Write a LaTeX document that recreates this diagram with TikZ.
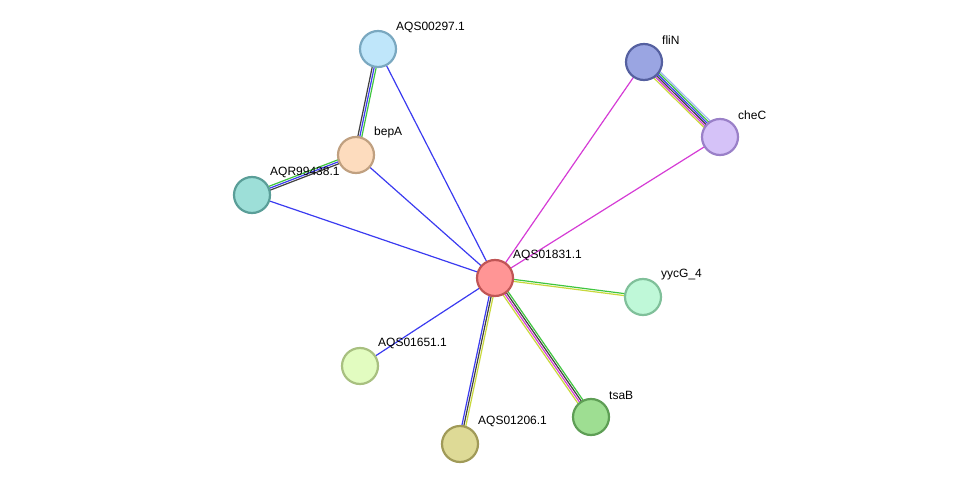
\documentclass[tikz,border=0pt]{standalone}
\usepackage{fontspec}
\setmainfont{Liberation Sans}
\usetikzlibrary{calc}
\pgfdeclarelayer{bg}\pgfsetlayers{bg,main}
\definecolor{eb}{HTML}{3B3BF0}
\definecolor{eg}{HTML}{3FC53F}
\definecolor{ed}{HTML}{404040}
\definecolor{em}{HTML}{D53CD5}
\definecolor{ey}{HTML}{C8D83C}
\definecolor{el}{HTML}{A0B8F0}
\definecolor{f1}{HTML}{BFE6FA}\definecolor{s1}{HTML}{7AA8C0}
\definecolor{f2}{HTML}{FDDCBE}\definecolor{s2}{HTML}{C0A080}
\definecolor{f3}{HTML}{9DDFD8}\definecolor{s3}{HTML}{5A9E98}
\definecolor{f4}{HTML}{9AA5E2}\definecolor{s4}{HTML}{5560A0}
\definecolor{f5}{HTML}{D5C2F8}\definecolor{s5}{HTML}{9A80C8}
\definecolor{f6}{HTML}{FF9595}\definecolor{s6}{HTML}{C05555}
\definecolor{f7}{HTML}{BFF8D8}\definecolor{s7}{HTML}{80C09A}
\definecolor{f8}{HTML}{E2FCC0}\definecolor{s8}{HTML}{A8C080}
\definecolor{f9}{HTML}{DEDA96}\definecolor{s9}{HTML}{A09A58}
\definecolor{f0}{HTML}{9EDE92}\definecolor{s0}{HTML}{5E9E55}
\newcommand{\medge}[4]{\draw[#4,line width=1.2pt] ($(#1.center)!#3pt!90:(#2.center)$) -- ($(#2.center)!#3pt!-90:(#1.center)$);}
\tikzset{prot/.style={circle,minimum size=36pt,inner sep=0pt,line width=2.2pt,fill=f#1,draw=s#1},
lab/.style={anchor=south west,font=\fontsize{12}{12}\selectfont,inner sep=0pt}}
\begin{document}
\begin{tikzpicture}[x=1pt,y=-1pt]
\useasboundingbox (0,0) rectangle (976,489);
\node[prot=1] (p297) at (378,49) {};
\node[prot=2] (bepA) at (356,155) {};
\node[prot=3] (aqr) at (252,195) {};
\node[prot=4] (fliN) at (644,62) {};
\node[prot=5] (cheC) at (720,137) {};
\node[prot=6] (c) at (495,278) {};
\node[prot=7] (yycG) at (643,297) {};
\node[prot=8] (p1651) at (360,366) {};
\node[prot=9] (p1206) at (460,444) {};
\node[prot=0] (tsaB) at (591,417) {};
\begin{pgfonlayer}{bg}
\medge{c}{p297}{0}{eb}
\medge{c}{bepA}{0}{eb}
\medge{c}{aqr}{0}{eb}
\medge{c}{p1651}{0}{eb}
\medge{c}{fliN}{0}{em}
\medge{c}{cheC}{0}{em}
\medge{p297}{bepA}{2}{eg}\medge{p297}{bepA}{0}{eb}\medge{p297}{bepA}{-2}{ed}
\medge{bepA}{aqr}{2}{ed}\medge{bepA}{aqr}{0}{eb}\medge{bepA}{aqr}{-2}{eg}
\medge{fliN}{cheC}{4.5}{el}\medge{fliN}{cheC}{2.7}{eg}\medge{fliN}{cheC}{0.9}{eb}\medge{fliN}{cheC}{-0.9}{ed}\medge{fliN}{cheC}{-2.7}{em}\medge{fliN}{cheC}{-4.5}{ey}
\medge{c}{yycG}{1}{eg}\medge{c}{yycG}{-1}{ey}
\medge{c}{tsaB}{3}{eg}\medge{c}{tsaB}{1}{ed}\medge{c}{tsaB}{-1}{em}\medge{c}{tsaB}{-3}{ey}
\medge{c}{p1206}{-2}{eb}\medge{c}{p1206}{0}{ed}\medge{c}{p1206}{2}{ey}
\end{pgfonlayer}
\node[lab] (l297) at (396,33) {AQS00297.1};
\node[lab] (lbep) at (374,138) {bepA};
\node[lab] (laqr) at (270,178) {AQR99438.1};
\node[lab] (lfli) at (662,45) {fliN};
\node[lab] (lche) at (738,120) {cheC};
\node[lab] (lc) at (513,261) {AQS01831.1};
\node[lab] (lyy) at (661,280) {yycG\_4};
\node[lab] (l1651) at (378,349) {AQS01651.1};
\node[lab] (l1206) at (478,427) {AQS01206.1};
\node[lab] (lts) at (609,400) {tsaB};
\end{tikzpicture}
\end{document}
